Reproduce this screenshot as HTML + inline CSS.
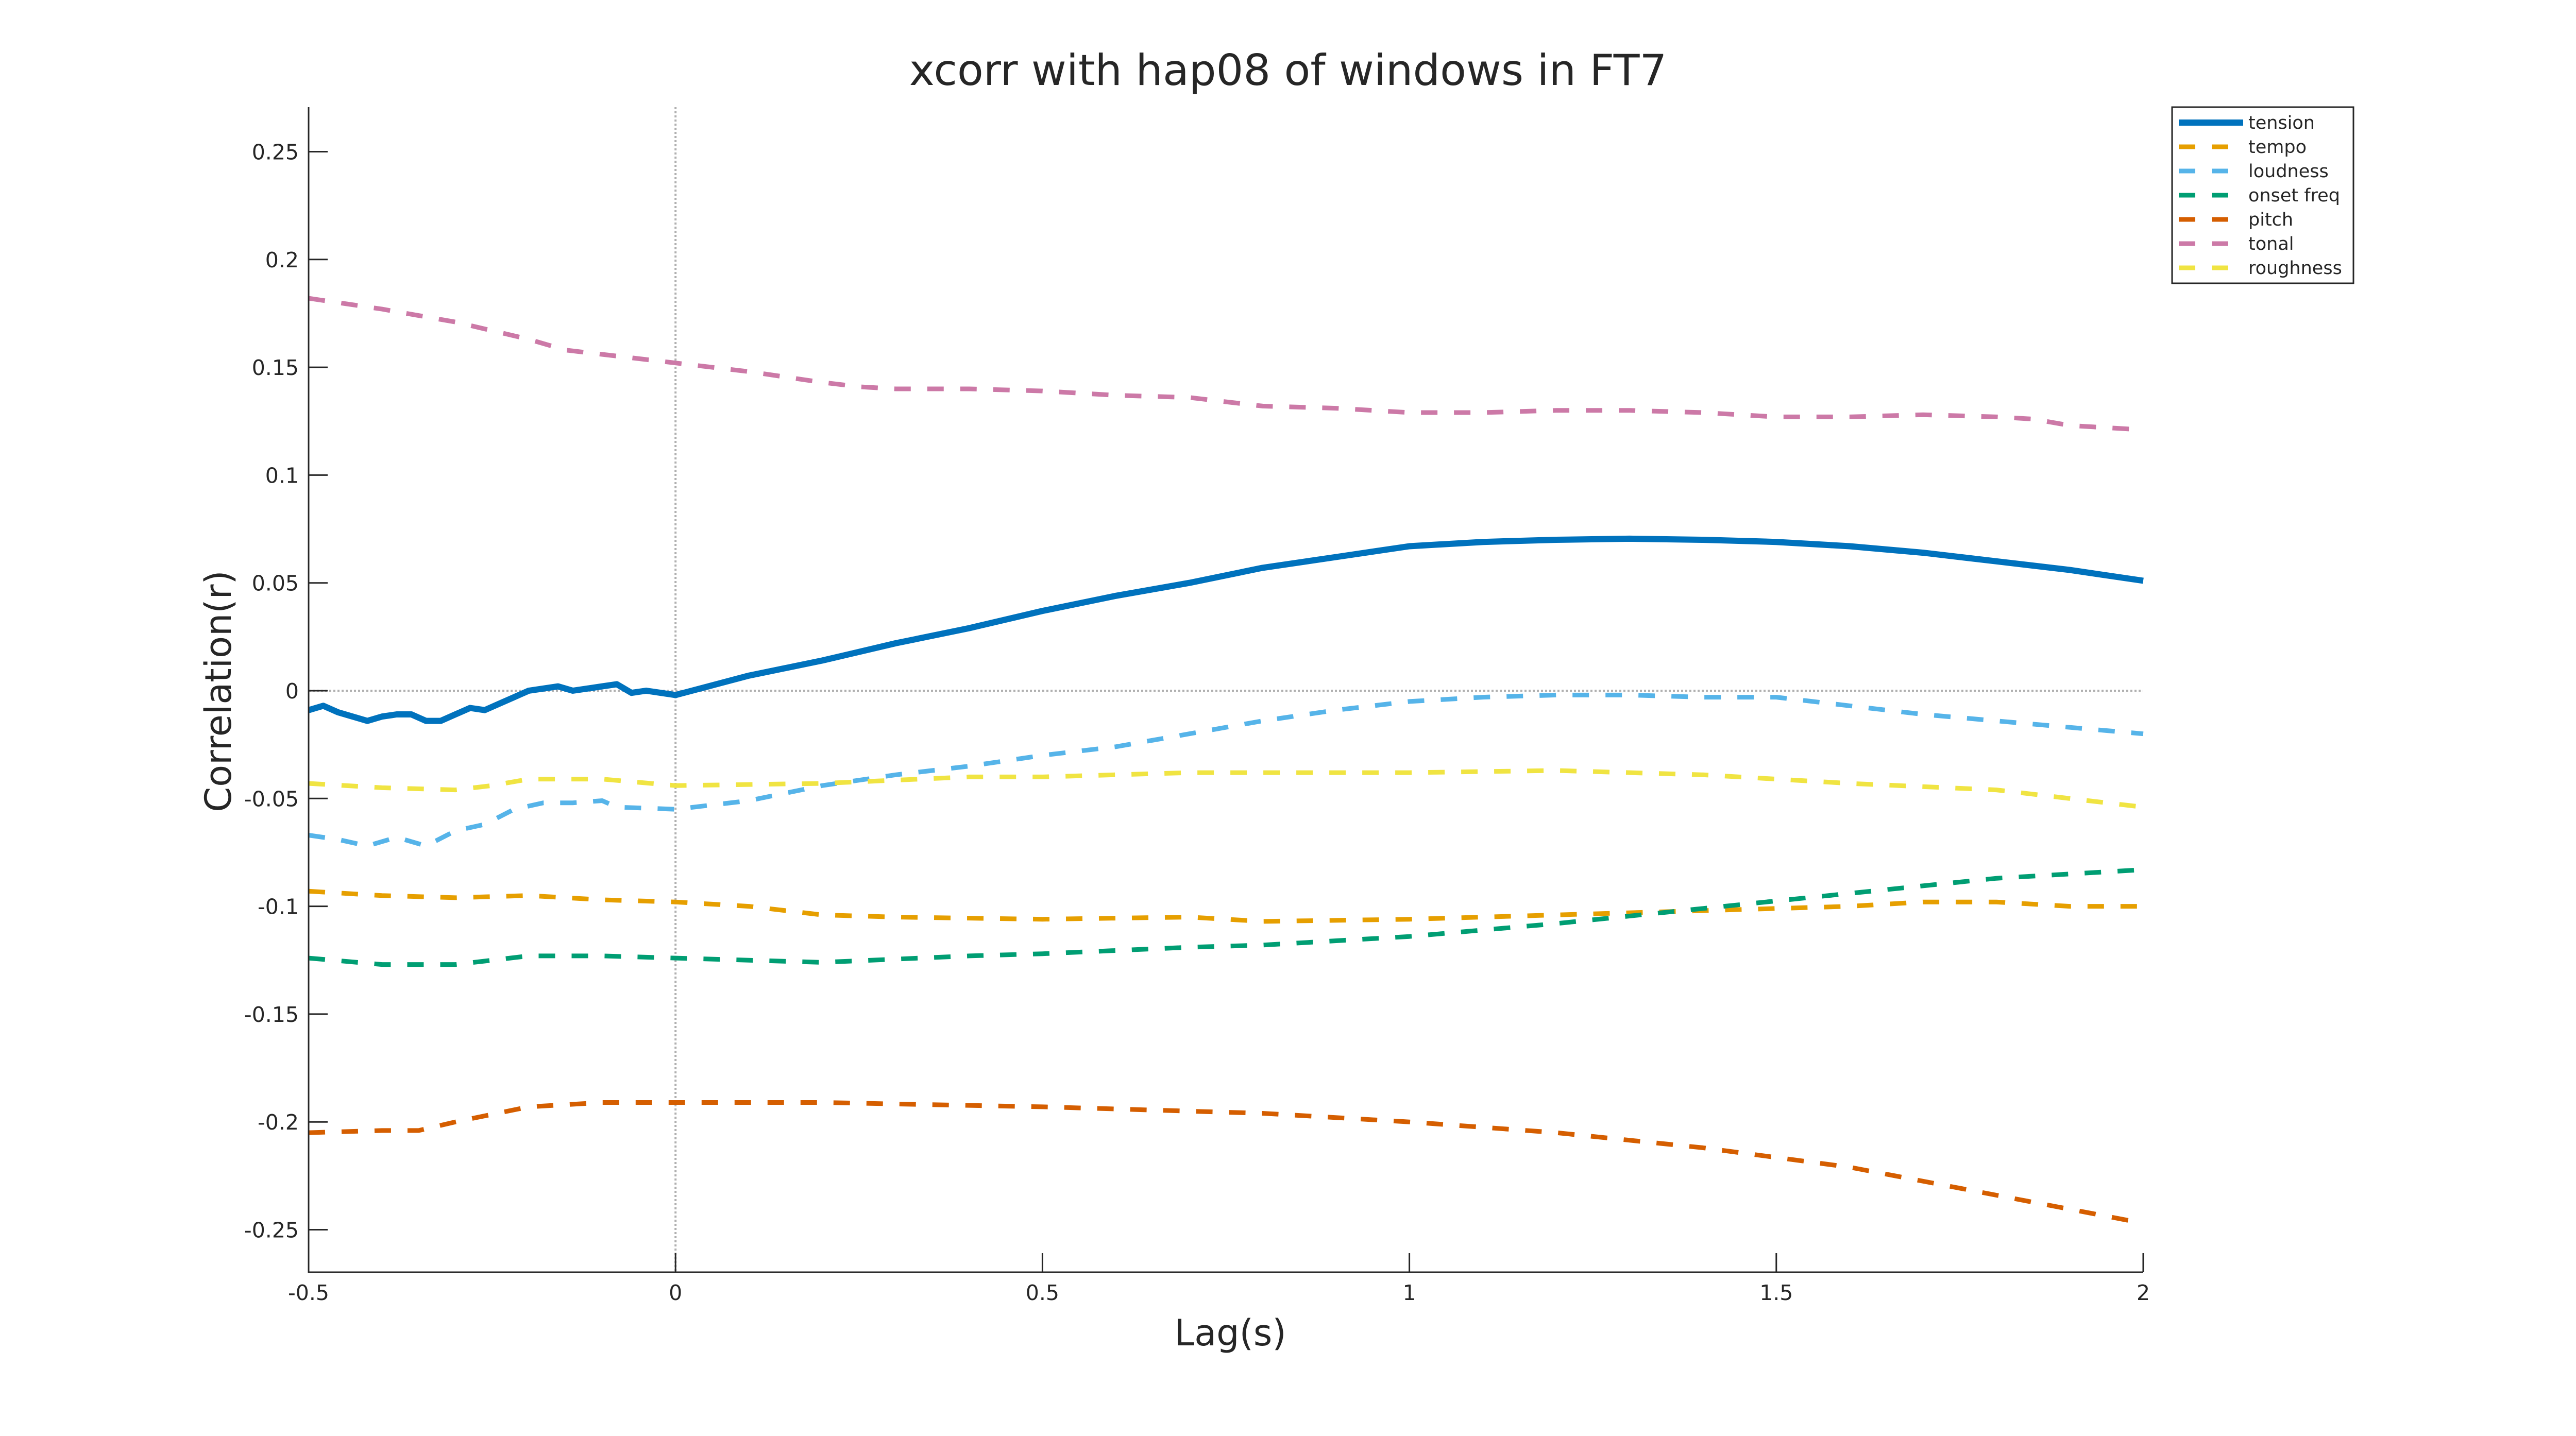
<!DOCTYPE html>
<html><head><meta charset="utf-8"><style>
html,body{margin:0;padding:0;background:#fff}
svg{display:block}
text{font-family:"DejaVu Sans","Liberation Sans",sans-serif;fill:#262626}
</style></head><body>
<svg id="chart" width="5019" height="2788" viewBox="0 0 5019 2788" xmlns="http://www.w3.org/2000/svg">
<rect width="5019" height="2788" fill="#fff"/>
<text x="2500" y="165" font-size="83" text-anchor="middle" fill="#000">xcorr with hap08 of windows in FT7</text>
<text x="2388" y="2612" font-size="70" text-anchor="middle">Lag(s)</text>
<text x="0" y="0" font-size="70" text-anchor="middle" transform="translate(448,1342) rotate(-90)">Correlation(r)</text>
<g id="grid"></g><g id="series"></g><g id="axes"></g><g id="legend"></g>
</svg>
<script>
const xTicks=[-0.5,0,0.5,1,1.5,2];
const xTickLabels=["-0.5","0","0.5","1","1.5","2"];
const yTicks=[-0.25,-0.2,-0.15,-0.1,-0.05,0,0.05,0.1,0.15,0.2,0.25];
const yTickLabels=["-0.25","-0.2","-0.15","-0.1","-0.05","0","0.05","0.1","0.15","0.2","0.25"];
const seriesNames=["tension","tempo","loudness","onset freq","pitch","tonal","roughness"];
const tensionLag=[-0.5,-0.48,-0.46,-0.44,-0.42,-0.4,-0.38,-0.36,-0.34,-0.32,-0.3,-0.28,-0.26,-0.24,-0.22,-0.2,-0.18,-0.16,-0.14,-0.12,-0.1,-0.08,-0.07,-0.06,-0.04,-0.02,0,0.1,0.2,0.3,0.4,0.5,0.6,0.7,0.8,0.9,1.0,1.1,1.2,1.3,1.4,1.5,1.6,1.7,1.8,1.9,2.0];
const tensionVal=[-0.009,-0.007,-0.010,-0.012,-0.014,-0.012,-0.011,-0.011,-0.014,-0.014,-0.011,-0.008,-0.009,-0.006,-0.003,0.000,0.001,0.002,0.000,0.001,0.002,0.003,0.001,-0.001,0.000,-0.001,-0.002,0.007,0.014,0.022,0.029,0.037,0.044,0.050,0.057,0.062,0.067,0.069,0.070,0.0705,0.070,0.069,0.067,0.064,0.060,0.056,0.051];
const tonalLag=[-0.5,-0.4,-0.3,-0.2,-0.15,-0.1,0,0.1,0.2,0.25,0.3,0.4,0.5,0.6,0.7,0.75,0.8,0.9,1.0,1.1,1.2,1.3,1.4,1.5,1.6,1.7,1.8,1.85,1.9,2.0];
const tonalVal=[0.182,0.177,0.171,0.163,0.158,0.156,0.152,0.148,0.143,0.141,0.140,0.140,0.139,0.137,0.136,0.134,0.132,0.131,0.129,0.129,0.130,0.130,0.129,0.127,0.127,0.128,0.127,0.126,0.123,0.121];
const loudLag=[-0.5,-0.46,-0.42,-0.38,-0.34,-0.3,-0.26,-0.22,-0.18,-0.14,-0.1,-0.08,0,0.1,0.2,0.3,0.4,0.5,0.6,0.7,0.8,0.9,1.0,1.1,1.2,1.3,1.4,1.5,1.6,1.7,1.8,1.9,2.0];
const loudVal=[-0.067,-0.069,-0.072,-0.068,-0.072,-0.065,-0.062,-0.055,-0.052,-0.052,-0.051,-0.054,-0.055,-0.051,-0.044,-0.039,-0.035,-0.030,-0.026,-0.020,-0.014,-0.009,-0.005,-0.003,-0.002,-0.002,-0.003,-0.003,-0.007,-0.011,-0.014,-0.017,-0.020];
const roughLag=[-0.5,-0.4,-0.3,-0.25,-0.2,-0.1,0,0.2,0.4,0.5,0.7,1.0,1.2,1.4,1.6,1.8,2.0];
const roughVal=[-0.043,-0.045,-0.046,-0.044,-0.041,-0.041,-0.044,-0.043,-0.040,-0.040,-0.038,-0.038,-0.037,-0.039,-0.043,-0.046,-0.054];
const tempoLag=[-0.5,-0.4,-0.3,-0.2,-0.1,0,0.1,0.2,0.3,0.5,0.7,0.8,1.0,1.2,1.4,1.5,1.6,1.7,1.8,1.9,2.0];
const tempoVal=[-0.093,-0.095,-0.096,-0.095,-0.097,-0.098,-0.100,-0.104,-0.105,-0.106,-0.105,-0.107,-0.106,-0.104,-0.102,-0.101,-0.100,-0.098,-0.098,-0.100,-0.100];
const onsetLag=[-0.5,-0.4,-0.3,-0.2,-0.1,0,0.2,0.4,0.5,0.7,0.8,1.0,1.2,1.4,1.6,1.8,2.0];
const onsetVal=[-0.124,-0.127,-0.127,-0.123,-0.123,-0.124,-0.126,-0.123,-0.122,-0.119,-0.118,-0.114,-0.108,-0.101,-0.094,-0.087,-0.083];
const pitchLag=[-0.5,-0.4,-0.35,-0.3,-0.2,-0.1,0,0.2,0.5,0.8,1.0,1.2,1.4,1.6,1.8,2.0];
const pitchVal=[-0.205,-0.204,-0.204,-0.200,-0.193,-0.191,-0.191,-0.191,-0.193,-0.196,-0.200,-0.205,-0.212,-0.221,-0.234,-0.247];

const NS="http://www.w3.org/2000/svg";
const L=599,R=4160,T=208,B=2470;
function xs(v){return L+(v+0.5)/2.5*(R-L);}
function ys(v){return 1341-v*4186;}
function mk(tag,attrs,parent){const e=document.createElementNS(NS,tag);for(const k in attrs)e.setAttribute(k,attrs[k]);parent.appendChild(e);return e;}
const grid=document.getElementById('grid'),axes=document.getElementById('axes'),ser=document.getElementById('series'),leg=document.getElementById('legend');

let z=mk('line',{x1:L,x2:R,y1:ys(0),y2:ys(0),stroke:'#b0b0b0','stroke-width':4,'stroke-dasharray':'4 4'},grid);


z=mk('line',{x1:xs(0),x2:xs(0),y1:T,y2:B,stroke:'#b0b0b0','stroke-width':4,'stroke-dasharray':'4 4'},grid);



const seriesData=[
 [tensionLag,tensionVal,'#0072BD',12,null],
 [tempoLag,tempoVal,'#E69F00',9,'32 32'],
 [loudLag,loudVal,'#56B4E9',9,'32 32'],
 [onsetLag,onsetVal,'#009E73',9,'32 32'],
 [pitchLag,pitchVal,'#D55E00',9,'32 32'],
 [tonalLag,tonalVal,'#CC79A7',9,'32 32'],
 [roughLag,roughVal,'#F0E442',9,'32 32']];
seriesData.forEach((s,i)=>{
 const pts=s[0].map((x,j)=>xs(x).toFixed(1)+','+ys(s[1][j]).toFixed(1)).join(' ');
 const a={points:pts,fill:'none',stroke:s[2],'stroke-width':s[3],'stroke-linejoin':'round'};
 if(s[4])a['stroke-dasharray']=s[4];
 const p=mk('polyline',a,ser);
 
 
});

let ax=mk('line',{x1:L,x2:L,y1:T,y2:B,stroke:'#262626','stroke-width':3},axes);


ax=mk('line',{x1:L-1.5,x2:R,y1:B,y2:B,stroke:'#262626','stroke-width':3},axes);


xTicks.forEach((v,i)=>{
 const t=mk('line',{x1:xs(v),x2:xs(v),y1:B,y2:B-37,stroke:'#262626','stroke-width':3},axes);
 
 
 const tx=mk('text',{x:xs(v),y:2524,'font-size':41,'text-anchor':'middle'},axes);
 tx.textContent=xTickLabels[i];
 
 
});
yTicks.forEach((v,i)=>{
 const t=mk('line',{x1:L,x2:L+37,y1:ys(v),y2:ys(v),stroke:'#262626','stroke-width':3},axes);
 
 
 const tx=mk('text',{x:580,y:ys(v)+15,'font-size':41,'text-anchor':'end'},axes);
 tx.textContent=yTickLabels[i];
 
 
});

const lb=mk('rect',{x:4216,y:208,width:352,height:342,fill:'#fff',stroke:'#262626','stroke-width':3},leg);


seriesData.forEach((s,i)=>{
 const y=238+47*i;
 const a={x1:4229,x2:4354,y1:y,y2:y,stroke:s[2],'stroke-width':s[4]?9:12};
 if(s[4])a['stroke-dasharray']='32 32';
 const l=mk('line',a,leg);
 
 
 const t=mk('text',{x:4364,y:y+12,'font-size':35,fill:'#000'},leg);
 t.textContent=seriesNames[i];
 
 
});
</script>
</body></html>
